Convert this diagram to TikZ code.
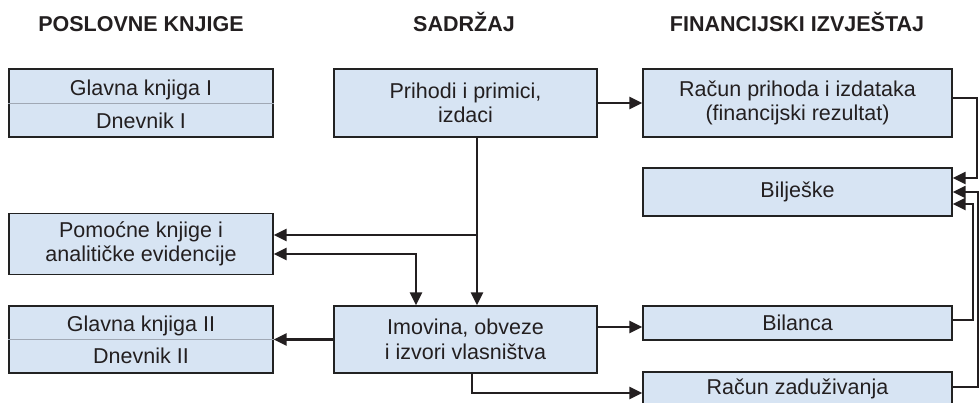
\documentclass[tikz,border=0pt]{standalone}
\usepackage{fontspec}
\setmainfont{Liberation Sans}
\usetikzlibrary{arrows.meta}
\definecolor{boxfill}{HTML}{D7E4F3}
\definecolor{boxline}{HTML}{222222}
\definecolor{divline}{HTML}{A0A8B4}
\definecolor{txt}{HTML}{231F20}
\tikzset{
  bx/.style={draw=boxline, line width=1.3pt, fill=boxfill, inner sep=0pt, align=center,
    text=txt, font=\fontsize{21.5}{24.5}\selectfont},
  ttl/.style={font=\bfseries\fontsize{21.5}{24}\selectfont, anchor=base, inner sep=0pt, text=txt},
  lbl/.style={font=\fontsize{21.5}{24}\selectfont, anchor=base, inner sep=0pt, text=txt},
  tip/.tip={Triangle[length=13pt,width=12pt]},
  conn/.style={line width=2.3pt, draw=txt, line join=miter, -tip},
  conn2/.style={line width=2.3pt, draw=txt, line join=miter, tip-tip},
}
\begin{document}
\begin{tikzpicture}[x=1pt,y=-1pt]
\useasboundingbox (0,0) rectangle (979,402);

% titles
\node[ttl] (t1) at (141,31.5) {POSLOVNE KNJIGE};
\node[ttl] (t2) at (464,31.5) {SADRŽAJ};
\node[ttl] (t3) at (797,31.5) {FINANCIJSKI IZVJEŠTAJ};

% left column
\node[bx, minimum width=264pt, minimum height=68pt] (gk1) at (141,103) {};
\draw[divline, line width=1pt] (gk1.west) -- (gk1.east);
\node[lbl] (gk1a) at (141,95) {Glavna knjiga I};
\node[lbl] (gk1b) at (141,128) {Dnevnik I};

\node[bx, minimum width=264pt, minimum height=61pt] (pom) at (141,244) {Pomoćne knjige i\\analitičke evidencije};

\node[bx, minimum width=264pt, minimum height=67pt] (gk2) at (141,339.5) {};
\draw[divline, line width=1pt] (gk2.west) -- (gk2.east);
\node[lbl] (gk2a) at (141,331) {Glavna knjiga II};
\node[lbl] (gk2b) at (141,363) {Dnevnik II};

% middle column
\node[bx, minimum width=263pt, minimum height=68pt] (pri) at (465.5,103) {Prihodi i primici,\\izdaci};
\node[bx, minimum width=263pt, minimum height=67pt] (imo) at (465.5,339.5) {Imovina, obveze\\i izvori vlasništva};

% right column
\node[bx, minimum width=309pt, minimum height=68pt] (rpi) at (797.5,103) {Račun prihoda i izdataka\\(financijski rezultat)};
\node[bx, minimum width=309pt, minimum height=48pt] (bil) at (797.5,192) {Bilješke};
\node[bx, minimum width=309pt, minimum height=34pt] (bal) at (797.5,323) {Bilanca};
\node[bx, minimum width=309pt, minimum height=34pt] (rz) at (797.5,389) {Račun zaduživanja};

% waypoints
\coordinate (j1) at (477,235);
\coordinate (j2) at (416,254);
\coordinate (j3) at (600,327);
\coordinate (j4) at (472,393);
\coordinate (w1) at (977,98);
\coordinate (w2) at (977,178);
\coordinate (w3) at (973,320);
\coordinate (w4) at (973,204);
\coordinate (w5) at (978,387);
\coordinate (w6) at (978,192);

% connectors
\draw[conn] (pri.east) -- (rpi.west);
\draw[conn] (pri.south -| j1) -- (imo.north -| j1);
\draw[conn] (j1) -- (pom.east |- j1);
\draw[conn2] (pom.east |- j2) -- (j2) -- (imo.north -| j2);
\draw[conn] (imo.west) -- (gk2.east);
\draw[conn] (imo.east |- j3) -- (bal.west |- j3);
\draw[conn] (imo.south -| j4) -- (j4) -- (rz.west |- j4);
\draw[conn] (rpi.east |- w1) -- (w1) -- (w2) -- (bil.east |- w2);
\draw[conn] (bal.east |- w3) -- (w3) -- (w4) -- (bil.east |- w4);
\draw[conn] (rz.east |- w5) -- (w5) -- (w6) -- (bil.east |- w6);
\end{tikzpicture}
\end{document}
